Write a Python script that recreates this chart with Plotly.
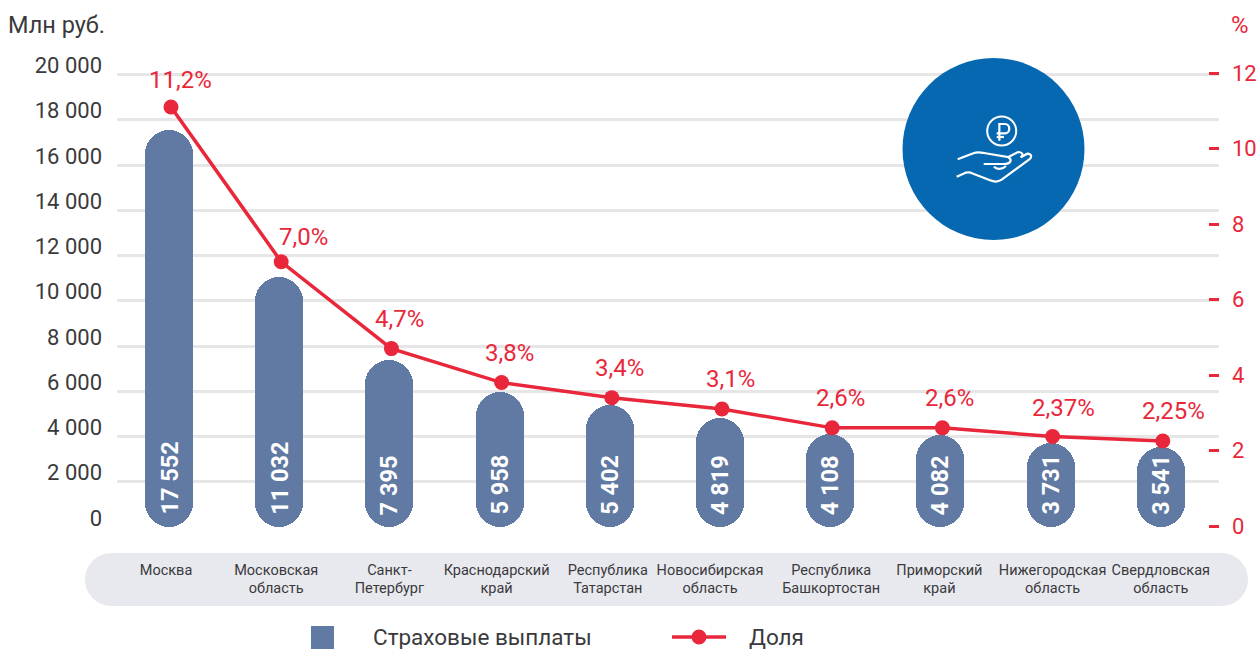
import plotly.graph_objects as go

W, H = 1256, 649
categories = ["Москва", "Московская<br>область", "Санкт-<br>Петербург", "Краснодарский<br>край",
              "Республика<br>Татарстан", "Новосибирская<br>область", "Республика<br>Башкортостан",
              "Приморский<br>край", "Нижегородская<br>область", "Свердловская<br>область"]
payments = [17552, 11032, 7395, 5958, 5402, 4819, 4108, 4082, 3731, 3541]
payment_labels = ["17 552", "11 032", "7 395", "5 958", "5 402", "4 819", "4 108", "4 082", "3 731", "3 541"]
share = [11.1, 7.0, 4.7, 3.8, 3.4, 3.1, 2.6, 2.6, 2.37, 2.25]
share_labels = ["11,2%", "7,0%", "4,7%", "3,8%", "3,4%", "3,1%", "2,6%", "2,6%", "2,37%", "2,25%"]
left_ticks = [0, 2000, 4000, 6000, 8000, 10000, 12000, 14000, 16000, 18000, 20000]
left_text = ["0", "2 000", "4 000", "6 000", "8 000", "10 000", "12 000", "14 000", "16 000", "18 000", "20 000"]
right_ticks = [0, 2, 4, 6, 8, 10, 12]
label_dx = [9, 22, 8, 8, 8, 8, 8, 7, 11, 11]
label_dy = [27, 25, 30, 30, 30, 30, 30, 30, 29, 30]
cat_shift = [-3, -3, 0, -3, -2, -10, 1, -1, 2, 0]

BAR, RED, GRID, TXT = "#617aa3", "#e9273a", "#e6e6e6", "#3a3a3c"
FONT = "Roboto"
xs = list(range(len(payments)))
PX_PER_CAT = 110.2
X0, X1, YB, YT = 117, 1219, 527, 60
LINE_DX = 2


def px(x):
    return x / W


def py(y):
    return 1 - y / H


def P(cmds, ox=0, oy=0, k=1.0):
    out = []
    for c in cmds:
        if isinstance(c, str):
            out.append(c)
        else:
            out.append(f"{px(ox + c[0] * k):.5f},{py(oy + c[1] * k):.5f}")
    return " ".join(out)


fig = go.Figure()
fig.add_bar(x=xs, y=payments, base=[0] * len(payments), width=48 / PX_PER_CAT,
            marker=dict(color=BAR, cornerradius=24, line_width=0), name="Страховые выплаты")
fig.add_scatter(x=xs, y=share, xaxis="x2", yaxis="y2", mode="lines+markers", name="Доля",
                line=dict(color=RED, width=3.5), marker=dict(color=RED, size=15))

ann = []
for i, t in enumerate(payment_labels):
    ann.append(dict(x=i, y=0, xref="x", yref="y", text=f"<b>{t}</b>", showarrow=False, textangle=-90,
                    yanchor="bottom", yshift=10, font=dict(family=FONT, size=23.5, color="white")))
for i, t in enumerate(share_labels):
    ann.append(dict(x=i, y=share[i], xref="x2", yref="y2", text=t, showarrow=False, xshift=label_dx[i], yshift=label_dy[i],
                    font=dict(family=FONT, size=24, color=RED)))


def text(x, y, s, anchor="left", color=TXT, size=22.5):
    ann.append(dict(x=px(x), y=py(y), xref="paper", yref="paper", text=s, showarrow=False, xanchor=anchor,
                    yanchor="middle", font=dict(family=FONT, size=size, color=color)))


text(6, 25, "Млн руб.", size=23.5)
text(1240, 25, "%", "center", RED, 24)
text(371, 637, "Страховые выплаты")
text(747, 637, "Доля")

shapes = []
pk = 0.5523 * 26.5
L, R, T, B = 85, 1248, 553, 606
pill = [
    "M", (L + 26.5, T), "L", (R - 26.5, T), "C", (R - 26.5 + pk, T), (R, T + 26.5 - pk), (R, T + 26.5),
    "C", (R, T + 26.5 + pk), (R - 26.5 + pk, B), (R - 26.5, B), "L", (L + 26.5, B),
    "C", (L + 26.5 - pk, B), (L, T + 26.5 + pk), (L, T + 26.5), "C", (L, T + 26.5 - pk), (L + 26.5 - pk, T), (L + 26.5, T), "Z",
]
shapes.append(dict(type="path", xref="paper", yref="paper", path=P(pill), fillcolor="#e8e9ef", line_width=0, layer="below"))


def circle(cx, cy, r, **kw):
    return dict(type="circle", xref="paper", yref="paper", x0=px(cx - r), x1=px(cx + r), y0=py(cy + r), y1=py(cy - r), **kw)


shapes.append(circle(993.5, 149, 91, fillcolor="#0668b0", line_width=0))
shapes.append(circle(1001.7, 131, 14.5, fillcolor="rgba(0,0,0,0)", line=dict(color="white", width=2)))
icon = dict(xref="paper", yref="paper", type="path", line=dict(color="white", width=2.2))
ox, oy, k = 880, 50, 1 / 3
icon_paths = [
    ["M", (358, 272), "L", (358, 222), "L", (375, 222), "C", (392, 222), (392, 250), (375, 250), "L", (350, 250)],
    ["M", (350, 261), "L", (372, 261)],
    ["M", (233, 328), "L", (280, 310), "C", (292, 305), (300, 307), (312, 309), "L", (385, 321), "L", (414, 306),
     "C", (428, 306), (432, 316), (422, 322)],
    ["M", (422, 322), "L", (442, 311), "C", (456, 312), (456, 322), (448, 328), "L", (365, 389), "C", (352, 398), (342, 396), (330, 391),
     "L", (272, 368), "C", (262, 365), (256, 368), (250, 371), "L", (230, 380)],
    ["M", (311, 342), "L", (372, 342), "C", (392, 342), (398, 330), (385, 321)],
    ["M", (342, 350), "C", (350, 360), (368, 358), (378, 348)],
]
for p in icon_paths:
    shapes.append(dict(path=P(p, ox, oy, k), **icon))
shapes.append(dict(type="rect", xref="paper", yref="paper", x0=px(311), x1=px(334), y0=py(649), y1=py(626), fillcolor=BAR, line_width=0))
shapes.append(dict(type="line", xref="paper", yref="paper", x0=px(672), x1=px(726), y0=py(637), y1=py(637), line=dict(color=RED, width=3.5)))
shapes.append(circle(699, 637, 7.5, fillcolor=RED, line_width=0))

y_top = 20000 * (YB - YT) / 452.5
y2_unit = 37.75
fig.update_layout(
    width=W, height=H, margin=dict(l=0, r=0, t=0, b=0, autoexpand=False), paper_bgcolor="white", plot_bgcolor="white",
    barmode="overlay", showlegend=False, bargap=0, annotations=ann, shapes=shapes,
    font=dict(family=FONT, color=TXT),
    xaxis=dict(domain=[px(X0), px(X1)], range=[(X0 - 169) / PX_PER_CAT, (X1 - 169) / PX_PER_CAT], tickmode="array",
               tickvals=[i + s / PX_PER_CAT for i, s in enumerate(cat_shift)], ticktext=categories, ticks="", showgrid=False,
               automargin=False, zeroline=False, showline=False, ticklabelstandoff=32, tickangle=0,
               tickfont=dict(family=FONT, size=14.5, color=TXT)),
    xaxis2=dict(overlaying="x", visible=False, range=[(X0 - 169 - LINE_DX) / PX_PER_CAT, (X1 - 169 - LINE_DX) / PX_PER_CAT]),
    yaxis=dict(domain=[py(YB), py(YT)], range=[0, y_top], tickmode="array", tickvals=left_ticks, ticktext=left_text,
               automargin=False, gridcolor=GRID, gridwidth=3, zeroline=False, showline=False, ticks="", ticklabelstandoff=14,
               ticklabelshift=-9, tickfont=dict(family=FONT, size=22, color=TXT)),
    yaxis2=dict(overlaying="y", side="right", anchor="x", range=[-1 / y2_unit, (526 - YT) / y2_unit], tickmode="array",
                automargin=False, tickvals=right_ticks, showgrid=False, zeroline=False, showline=False, ticks="inside", ticklen=10,
                tickwidth=3, tickcolor=RED, ticklabelstandoff=12, tickfont=dict(family=FONT, size=22, color=RED)),
)
fig.write_html("out.html", config={"displayModeBar": False},
               post_script="document.body.style.margin='0';document.body.style.overflow='hidden';")
